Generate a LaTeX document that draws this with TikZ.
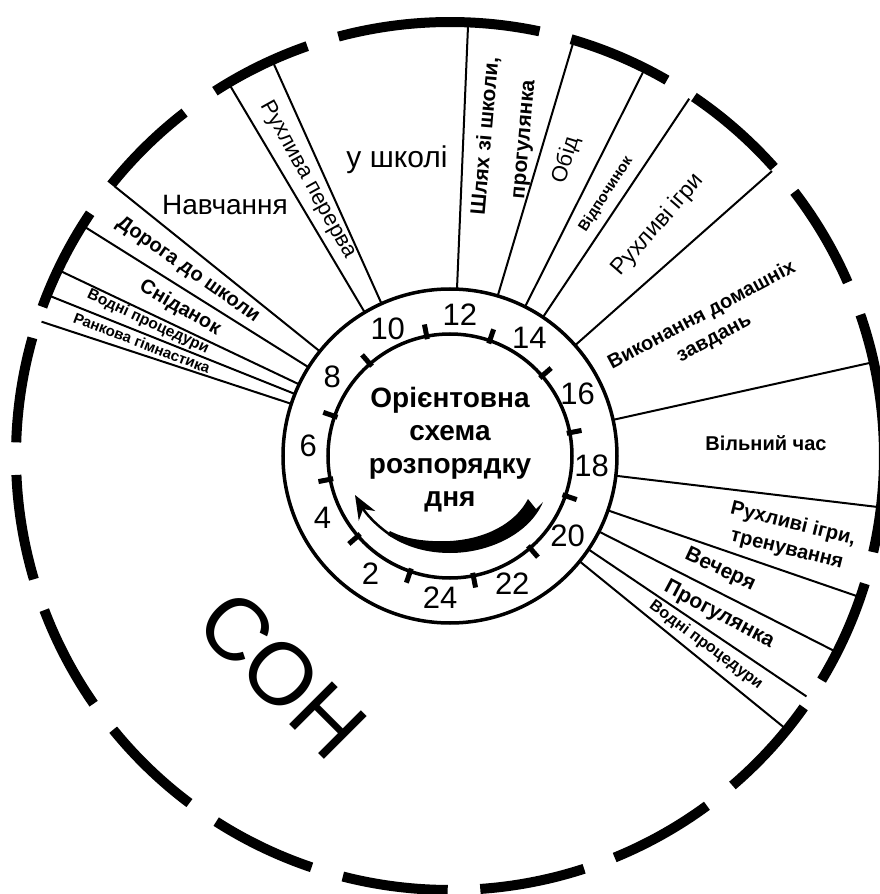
\documentclass[tikz,border=0pt]{standalone}
\usepackage{fontspec}
\setmainfont{Liberation Sans}
\usetikzlibrary{arrows.meta}
\newcommand{\fsz}[2]{\fontsize{#1}{#2}\selectfont}

\tikzset{
  sector/.style={line width=2pt},
  rim/.style={line width=10pt},
  ring/.style={line width=3.5pt},
  tickmark/.style={line width=5pt},
  hour/.style={font=\fsz{31}{33}, inner sep=0pt},
  lbl/.style={inner sep=0pt, align=center},
}

\begin{document}
\begin{tikzpicture}[x=1pt,y=1pt]
\useasboundingbox (-450,-438) rectangle (430,456);

% outer rim, broken into dashes
\foreach \s/\e in {-12.8/19, 23.6/37.5, 41.7/55.8, 60/73.8, 78.1/104.9,
    109.2/122.8, 127.7/141.3, 146/159.9, 164.2/178.2, 182.5/196.5,
    200.8/214.8, 219.1/233.1, 237.4/251.4, 255.7/269.7, 274/288,
    292.3/306.3, 310.6/324.6, 328.9/342.9}
  \draw[rim] (\s:434) arc[start angle=\s, end angle=\e, radius=434];

% borders between the parts of the day
\foreach \a in {161.8, 158.2, 154.6, 147.9, 141.2, 120.7, 114.2, 87.6, 73.4,
    63.3, 56.2, 41.5, 12.5, -6.8, -19, -26.9, -34, -39.1}
  \draw[sector] (\a:167) -- (\a:430);

% clock face
\draw[ring] (0,0) circle[radius=167];
\draw[ring] (0,0) circle[radius=122];
\foreach \h in {1,3,...,23}
  \draw[tickmark] ({-94-15*\h}:119) -- ({-94-15*\h}:134);
\foreach \h in {2,4,...,24}
  \node[hour] (h\h) at ({-94-15*\h}:142) {\h};

\node[lbl, font=\fsz{28}{33}\bfseries] (title) at (0,6)
  {Орієнтовна\\схема\\розпорядку\\дня};

% arrow inside the face
\fill (93,-46) .. controls (80,-77) and (40,-97) .. (0,-97)
  .. controls (-30,-97) and (-50,-87) .. (-62,-79)
  -- (-60,-75) .. controls (-45,-83) and (-25,-86) .. (0,-85)
  .. controls (35,-83) and (65,-68) .. (78,-43) -- (86,-53) -- cycle;
\draw[line width=2.5pt, -{Stealth[length=24pt,width=19pt]}]
  (-58,-80) .. controls (-72,-71) and (-84,-58) .. (-95,-39);

% morning
\node[lbl, font=\fsz{15}{18}\bfseries, rotate=-21] (gym) at (-308,113) {Ранкова гімнастика};
\node[lbl, font=\fsz{15.5}{18}\bfseries, rotate=-25] (wash1) at (-302,134) {Водні процедури};
\node[lbl, font=\fsz{20}{24}\bfseries, rotate=-30] (breakfast) at (-270,148) {Сніданок};
\node[lbl, font=\fsz{20}{24}\bfseries, rotate=-35] (way) at (-262,186) {Дорога до школи};
\node[lbl, font=\fsz{28}{32}] (study) at (-225,251) {Навчання};
\node[lbl, font=\fsz{22}{26}, rotate=-61] (pause) at (-142,276) {Рухлива перерва};
\node[lbl, font=\fsz{30}{34}] (school) at (-53,296) {у школі};

% afternoon
\node[lbl, font=\fsz{21}{38}\bfseries, rotate=85] (home) at (55,318) {Шлях зі школи,\\прогулянка};
\node[lbl, font=\fsz{22}{26}, rotate=73] (dinner) at (116,296) {Обід};
\node[lbl, font=\fsz{15}{18}\bfseries, rotate=57] (rest) at (156,262) {Відпочинок};
\node[lbl, font=\fsz{23}{26}, rotate=49] (games) at (208,231) {Рухливі ігри};
\node[lbl, font=\fsz{20}{26}\bfseries, rotate=28] (homework) at (258,129) {Виконання домашніх\\завдань};
\node[lbl, font=\fsz{20}{24}\bfseries] (free) at (316,13) {Вільний час};

% evening
\node[lbl, font=\fsz{20}{26}\bfseries, rotate=-14] (sport) at (340,-81) {Рухливі ігри,\\тренування};
\node[lbl, font=\fsz{21}{24}\bfseries, rotate=-25] (supper) at (270,-114) {Вечеря};
\node[lbl, font=\fsz{21}{24}\bfseries, rotate=-28] (walk) at (269,-159) {Прогулянка};
\node[lbl, font=\fsz{16}{18}\bfseries, rotate=-36.5] (wash2) at (256,-189) {Водні процедури};

% night
\node[lbl, font=\fsz{88}{90}, rotate=-45] (sleep) at (-168,-219) {СОН};
\end{tikzpicture}
\end{document}
